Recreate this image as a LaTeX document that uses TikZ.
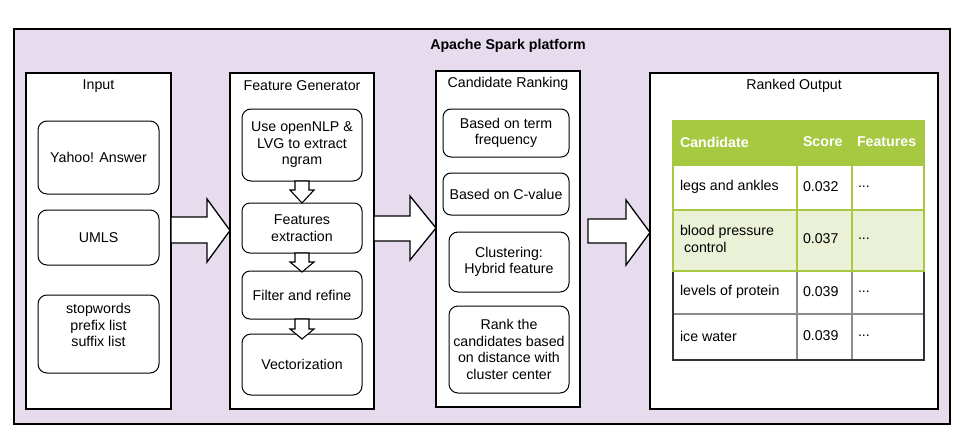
\documentclass[tikz,border=0pt]{standalone}
\usepackage{fontspec}
\setmainfont{Liberation Sans}
\usetikzlibrary{calc}
\definecolor{platbg}{HTML}{E6DCEE}
\definecolor{hdrgreen}{HTML}{A7C942}
\definecolor{lightgreen}{HTML}{EAF1D6}
\definecolor{darkline}{HTML}{333333}
\definecolor{grayline}{HTML}{8C8C8C}
\begin{document}
\begin{tikzpicture}[x=1pt,y=-1pt,
  every node/.style={font=\fontsize{14.2}{16.5}\selectfont, inner sep=0pt, outer sep=0pt},
  platform/.style={draw=black, fill=platbg, line width=1.3pt},
  panel/.style={draw=black, fill=white, line width=1.3pt},
  rbox/.style={draw=black, fill=white, rounded corners=8pt, line width=1pt, align=center},
  blockarrow/.style={draw=black, fill=white, line width=1.3pt, line join=miter},
  smallarrow/.style={draw=black, fill=white, line width=1.1pt, line join=miter},
  celltxt/.style={anchor=west, align=left},
  hdrtxt/.style={anchor=west, text=white, font=\fontsize{14.2}{16.5}\selectfont\bfseries},
  greenline/.style={draw=hdrgreen, line width=1.6pt},
  grayrule/.style={draw=grayline, line width=1.3pt},
  darkrule/.style={draw=darkline, line width=1.5pt}
]
\useasboundingbox (0,0) rectangle (955,442);
\fill[white] (0,0) rectangle (955,442);

% platform
\node[platform, minimum width=936pt, minimum height=395pt] (plat) at (482,226.5) {};
\node[font=\fontsize{14.2}{16.5}\selectfont\bfseries] (plattitle) at (508,46) {Apache Spark platform};

% panels
\node[panel, minimum width=145pt, minimum height=336pt] (in) at (98.5,241) {};
\node[panel, minimum width=144pt, minimum height=336pt] (fg) at (302,241) {};
\node[panel, minimum width=144pt, minimum height=336pt] (cr) at (508,239) {};
\node[panel, minimum width=288pt, minimum height=336pt] (ro) at (794,241) {};
\node (inlbl) at (98.5,86) {Input};
\node (fglbl) at (302,86) {Feature Generator};
\node (crlbl) at (508,84) {Candidate Ranking};
\node (rolbl) at (794,86) {Ranked Output};

% input boxes
\node[rbox, rounded corners=9pt, minimum width=121pt, minimum height=73pt] (yahoo) at (98.5,157.5) {Yahoo! Answer};
\node[rbox, rounded corners=9pt, minimum width=121pt, minimum height=55pt] (umls) at (98.5,237.5) {UMLS};
\node[rbox, rounded corners=9pt, minimum width=121pt, minimum height=78pt] (stop) at (98.5,334) {};
\node[align=center] (stoptxt) at (98.5,325) {stopwords\\prefix list\\suffix list};

% feature generator boxes
\node[rbox, rounded corners=9pt, minimum width=120pt, minimum height=72pt] (nlp) at (302,145) {Use openNLP \&\\LVG to extract\\ngram};
\node[rbox, minimum width=120pt, minimum height=50pt] (fex) at (302,228) {Features\\extraction};
\node[rbox, minimum width=120pt, minimum height=48pt] (filt) at (302,295) {Filter and refine};
\node[rbox, rounded corners=9pt, minimum width=120pt, minimum height=61pt] (vec) at (302,364.5) {Vectorization};

% candidate ranking boxes
\node[rbox, minimum width=126pt, minimum height=48pt] (tf) at (506,133) {Based on term\\frequency};
\node[rbox, minimum width=126pt, minimum height=42pt] (cval) at (506,194) {Based on C-value};
\node[rbox, rounded corners=9pt, minimum width=120pt, minimum height=60pt] (clus) at (509,262) {Clustering:\\Hybrid feature};
\node[rbox, rounded corners=9pt, minimum width=120pt, minimum height=87pt] (rank) at (509,349.5) {Rank the\\candidates based\\on distance with\\cluster center};

% small arrows
\draw[smallarrow] (nlp.south -| 295,0) -- (309,181) -- (309,190) -- (314,190) -- (fex.north) -- (290,190) -- (295,190) -- cycle;
\draw[smallarrow] (fex.south -| 295,0) -- (309,253) -- (309,262) -- (314,262) -- (302,272) -- (290,262) -- (295,262) -- cycle;
\draw[smallarrow] (filt.south -| 295,0) -- (309,319) -- (309,329) -- (314,329) -- (302,339) -- (290,329) -- (295,329) -- cycle;

% big arrows
\draw[blockarrow] (in.east |- 0,217) -- (207,217) -- (207,199) -- (fg.west |- 0,230.5) -- (207,262) -- (207,243) -- (in.east |- 0,243) -- cycle;
\draw[blockarrow] (fg.east |- 0,216) -- (410,216) -- (410,196) -- (cr.west |- 0,228) -- (410,260) -- (410,241) -- (fg.east |- 0,241) -- cycle;
\draw[blockarrow] (588,219) -- (626,219) -- (626,200) -- (ro.west |- 0,232.5) -- (626,265) -- (626,243) -- (588,243) -- cycle;

% table
\fill[hdrgreen] (673,121) rectangle (924,165);
\fill[white] (673,165) rectangle (924,210);
\fill[lightgreen] (673,210) rectangle (924,271);
\fill[white] (673,271) rectangle (924,360);
\draw[grayrule] (797,271) -- (797,360);
\draw[grayrule] (852,271) -- (852,360);
\draw[grayrule] (673,314) -- (924,314);
\draw[darkrule] (673,271) -- (673,360) -- (924,360) -- (924,271);
\draw[greenline] (673,121) rectangle (924,271);
\draw[greenline] (673,165) -- (924,165);
\draw[greenline] (673,210) -- (924,210);
\draw[greenline] (797,121) -- (797,271);
\draw[greenline] (852,121) -- (852,271);

\node[hdrtxt] (h1) at (680,142) {Candidate};
\node[hdrtxt] (h2) at (803,142) {Score};
\node[hdrtxt] (h3) at (857,142) {Features};
\node[celltxt] (r1a) at (680,187) {legs and ankles};
\node[celltxt] (r1b) at (803,187) {0.032};
\node[celltxt] (r1c) at (858,187) {...};
\node[celltxt] (r2a) at (680,239) {blood pressure\\\hspace*{4pt}control};
\node[celltxt] (r2b) at (803,239) {0.037};
\node[celltxt] (r2c) at (858,239) {...};
\node[celltxt] (r3a) at (680,292) {levels of protein};
\node[celltxt] (r3b) at (803,292) {0.039};
\node[celltxt] (r3c) at (858,292) {...};
\node[celltxt] (r4a) at (680,336) {ice water};
\node[celltxt] (r4b) at (803,336) {0.039};
\node[celltxt] (r4c) at (858,336) {...};
\end{tikzpicture}
\end{document}
